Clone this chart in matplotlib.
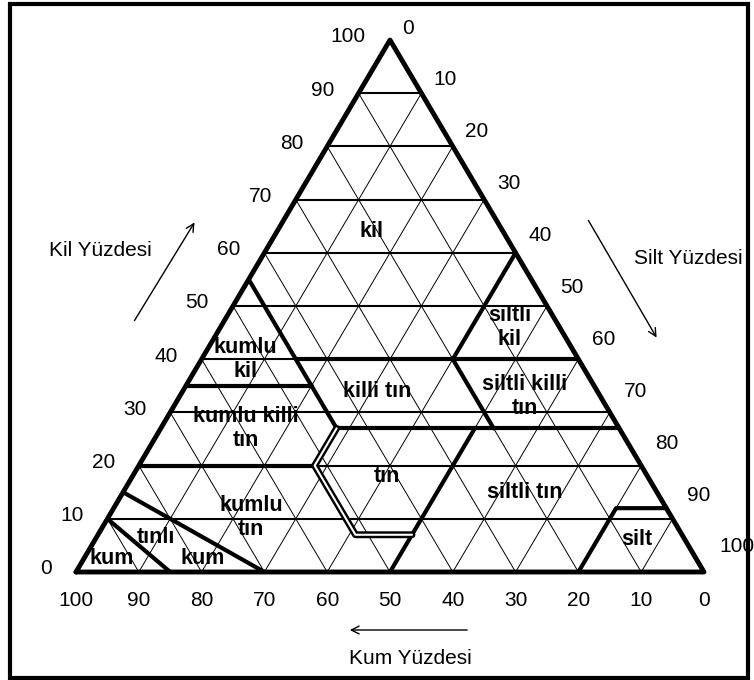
import matplotlib.pyplot as plt
from matplotlib.patches import Rectangle

plt.rcParams['font.family'] = ['Liberation Sans', 'DejaVu Sans']

# tick values on the three sides
kil_ticks = [0, 10, 20, 30, 40, 50, 60, 70, 80, 90, 100]
silt_ticks = [0, 10, 20, 30, 40, 50, 60, 70, 80, 90, 100]
kum_ticks = [100, 90, 80, 70, 60, 50, 40, 30, 20, 10, 0]
grid_steps = [10, 20, 30, 40, 50, 60, 70, 80, 90]

# class boundaries, points given as (kum %, kil %)
kum_sinir = [(90, 10), (85, 0)]
tinli_kum_sinir = [(85, 15), (70, 0)]
kumlu_tin_ust = [(80, 20), (52, 20)]
silt50_sinir = [(50, 0), (23, 27)]
kil27_sinir = [(45, 27), (0, 27)]
kum45_sinir = [(45, 55), (45, 27)]
kil35_sinir = [(65, 35), (45, 35)]
kil40_sinir = [(45, 40), (0, 40)]
kum20_sinir = [(20, 40), (20, 27)]
silt40_sinir = [(20, 40), (0, 60)]
silt_sinir = [(20, 0), (8, 12), (0, 12)]
thick_lines = [kum_sinir, tinli_kum_sinir, kumlu_tin_ust, silt50_sinir,
               kil27_sinir, kum45_sinir, kil35_sinir, kil40_sinir,
               kum20_sinir, silt40_sinir, silt_sinir]
# loam boundary, printed as a double line in the original
tin_sinir = [(45, 27), (52, 20), (52, 7), (43, 7)]

# class names with (kum %, kil %) label position
class_names = ["kil", "siltli\nkil", "killi tın", "siltli killi\ntın", "tın",
               "siltli tın", "silt", "kumlu\nkil", "kumlu killi\ntın",
               "kumlu\ntın", "tınlı", "kum", "kum"]
class_kum = [21, 8, 35, 12, 41.5, 21, 7.6, 53, 59.5, 67, 84, 78.5, 93]
class_kil = [64, 46, 34, 33, 18, 15, 6.2, 40, 27, 10.3, 6.4, 2.6, 2.6]

W, H = 754, 680


def tern(kum, kil):
    silt = 100 - kum - kil
    return silt + kil / 2.0, kil


def draw_path(ax, pts, **kw):
    xy = [tern(a, b) for a, b in pts]
    ax.plot([p[0] for p in xy], [p[1] for p in xy], solid_capstyle='round',
            solid_joinstyle='round', clip_on=False, **kw)


fig = plt.figure(figsize=(W / 100, H / 100), dpi=100)
ax = fig.add_axes([76 / W, (H - 572) / H, 628 / W, 532 / H])
ax.set_xlim(0, 100)
ax.set_ylim(0, 100)
ax.axis('off')

# grid
for v in grid_steps:
    draw_path(ax, [(100 - v, v), (0, v)], color='black', lw=1.5)
    draw_path(ax, [(v, 100 - v), (v, 0)], color='black', lw=0.7)
    draw_path(ax, [(100 - v, 0), (0, 100 - v)], color='black', lw=0.7)

# outer triangle
draw_path(ax, [(100, 0), (0, 0), (0, 100), (100, 0)], color='black', lw=3.5)

for line in thick_lines:
    draw_path(ax, line, color='black', lw=3)
draw_path(ax, tin_sinir, color='black', lw=5)
draw_path(ax, tin_sinir, color='white', lw=1.5)

# class labels
for name, k, c in zip(class_names, class_kum, class_kil):
    x, y = tern(k, c)
    ax.text(x, y, name, ha='center', va='center', fontsize=15.5,
            fontweight='bold', linespacing=1.2)

# side tick labels
for c in kil_ticks:
    ax.annotate(str(c), tern(100 - c, c), xytext=(-24, 3),
                textcoords='offset pixels', ha='right', va='center',
                fontsize=15, annotation_clip=False)
for s in silt_ticks:
    ax.annotate(str(s), tern(0, 100 - s), xytext=(12 + 0.03 * s, 12 + 0.13 * s),
                textcoords='offset pixels', ha='left', va='center',
                fontsize=15, annotation_clip=False)
for k in kum_ticks:
    ax.annotate(str(k), tern(k, 0), xytext=(0, -29),
                textcoords='offset pixels', ha='center', va='center',
                fontsize=15, annotation_clip=False)

# axis titles with arrows
fig.text(100 / W, 1 - 250 / H, "Kil Yüzdesi", ha='center', va='center', fontsize=15)
fig.text(688 / W, 1 - 258 / H, "Silt Yüzdesi", ha='center', va='center', fontsize=15)
fig.text(410 / W, 1 - 658 / H, "Kum Yüzdesi", ha='center', va='center', fontsize=15)

arrow = dict(arrowstyle='->', color='black', lw=1, mutation_scale=14)
ax.annotate("", xy=(196 / W, 1 - 220 / H), xytext=(133 / W, 1 - 323 / H),
            xycoords='figure fraction', textcoords='figure fraction', arrowprops=arrow)
ax.annotate("", xy=(658 / W, 1 - 340 / H), xytext=(587 / W, 1 - 218 / H),
            xycoords='figure fraction', textcoords='figure fraction', arrowprops=arrow)
ax.annotate("", xy=(347 / W, 1 - 630 / H), xytext=(470 / W, 1 - 630 / H),
            xycoords='figure fraction', textcoords='figure fraction', arrowprops=arrow)

# frame around the picture
fig.patches.append(Rectangle((10 / W, 2 / H), 738 / W, 674 / H, fill=False,
                             lw=3, edgecolor='black', transform=fig.transFigure))

fig.savefig('out.png', dpi=100)
